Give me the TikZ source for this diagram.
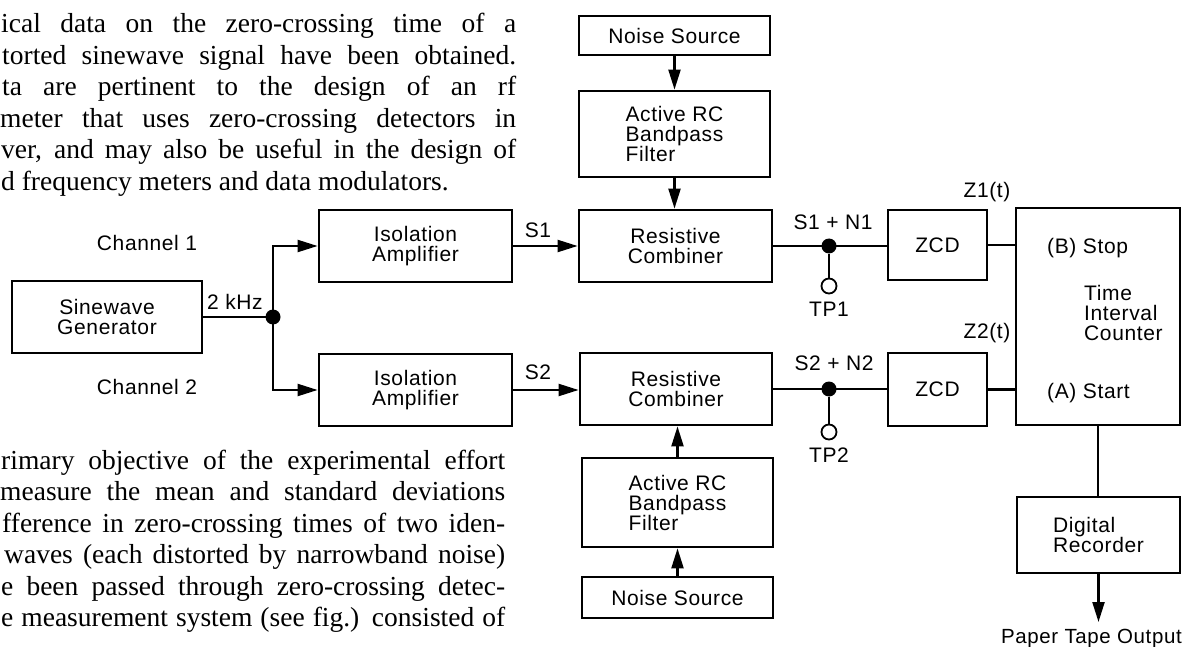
\documentclass[tikz,border=0pt]{standalone}
\usepackage{fontspec}
\setmainfont{Liberation Sans}[LetterSpace=3]
\newfontfamily\bodyfont{Liberation Serif}
\usetikzlibrary{arrows.meta,calc}
\begin{document}
\begin{tikzpicture}[x=1pt,y=-1pt,
  font=\fontsize{21}{20}\selectfont,
  blk/.style={draw,line width=2.8pt,inner sep=0pt,align=center},
  conn/.style={line width=2.2pt},
  thinconn/.style={line width=1.5pt},
  thickconn/.style={line width=2.8pt},
  arr/.style={conn,-{Triangle[length=20pt,width=12pt]}},
  dot/.style={circle,fill,inner sep=0pt,minimum size=15pt},
  tp/.style={circle,draw,line width=1.8pt,inner sep=0pt,minimum size=15pt},
  lbl/.style={inner sep=0pt},
  body/.style={inner sep=0pt,anchor=base west,font=\bodyfont\fontsize{27.5}{31}\selectfont}]
\useasboundingbox[fill=white] (0,0) rectangle (1184,647);

% body text, first paragraph
\node[body] (pa1) at (1,33)    {\makebox[515pt][s]{ical data on the zero-crossing time of a}};
\node[body] (pa2) at (2,64.5)  {\makebox[514pt][s]{torted sinewave signal have been obtained.}};
\node[body] (pa3) at (2,96)    {\makebox[514pt][s]{ta are pertinent to the design of an rf}};
\node[body] (pa4) at (0,127.5) {\makebox[516pt][s]{meter that uses zero-crossing detectors in}};
\node[body] (pa5) at (1,159)   {\makebox[515pt][s]{ver, and may also be useful in the design of}};
\node[body] (pa6) at (1,190.5) {d frequency meters and data modulators.};

% body text, second paragraph
\node[body] (pb1) at (1,469)   {\makebox[504pt][s]{rimary objective of the experimental effort}};
\node[body] (pb2) at (0,500.5) {\makebox[505pt][s]{measure the mean and standard deviations}};
\node[body] (pb3) at (2,532)   {\makebox[503pt][s]{fference in zero-crossing times of two iden-}};
\node[body] (pb4) at (4,563.5) {\makebox[501pt][s]{waves (each distorted by narrowband noise)}};
\node[body] (pb5) at (1,595)   {\makebox[504pt][s]{e been passed through zero-crossing detec-}};
\node[body] (pb6) at (1,626.5) {\makebox[504pt][s]{e measurement system (see fig.) consisted of}};

% blocks
\node[blk,minimum width=190pt,minimum height=72pt] (SG) at (107,317) {Sinewave\\Generator};
\node[blk,minimum width=193pt,minimum height=72pt] (IA1) at (415.5,246) {Isolation\\Amplifier};
\node[blk,minimum width=193pt,minimum height=72pt] (IA2) at (415.5,390) {Isolation\\Amplifier};
\node[blk,minimum width=191pt,minimum height=39pt] (NS1) at (674.5,35.5) {Noise Source};
\node[blk,minimum width=191pt,minimum height=86pt,align=left] (F1) at (674.5,134) {Active RC\\Bandpass\\Filter};
\node[blk,minimum width=193pt,minimum height=72pt] (RC1) at (675.5,246) {Resistive\\Combiner};
\node[blk,minimum width=192pt,minimum height=72pt] (RC2) at (676,389) {Resistive\\Combiner};
\node[blk,minimum width=191pt,minimum height=89pt,align=left] (F2) at (677.5,502.5) {Active RC\\Bandpass\\Filter};
\node[blk,minimum width=191pt,minimum height=41pt] (NS2) at (677.5,597.5) {Noise Source};
\node[blk,minimum width=99pt,minimum height=70pt] (ZCD1) at (937.5,245) {ZCD};
\node[blk,minimum width=99pt,minimum height=73pt] (ZCD2) at (937.5,389.5) {ZCD};
\node[blk,minimum width=164pt,minimum height=217pt] (TIC) at (1098,316.5) {};
\node[blk,minimum width=163pt,minimum height=76pt,align=left] (DR) at (1098.5,535) {Digital\\Recorder};

% text inside the counter
\node[lbl,anchor=west] (stop) at (1047,248) {(B) Stop};
\node[lbl,anchor=west,align=left] (ticl) at (1084,313) {Time\\Interval\\Counter};
\node[lbl,anchor=west] (start) at (1047,393) {(A) Start};

% labels
\node[lbl] (ch1) at (147,243) {Channel 1};
\node[lbl] (ch2) at (147,387) {Channel 2};
\node[lbl,anchor=west] (khz) at (207,302) {2 kHz};
\node[lbl] (s1) at (538,230) {S1};
\node[lbl] (s2) at (538,372) {S2};
\node[lbl] (sn1) at (833,222) {S1 + N1};
\node[lbl] (sn2) at (834,363) {S2 + N2};
\node[lbl] (tp1l) at (829,309) {TP1};
\node[lbl] (tp2l) at (829,455) {TP2};
\node[lbl] (z1) at (987,192) {Z1(t)};
\node[lbl] (z2) at (987,333) {Z2(t)};

% junctions and test points
\node[dot] (J0) at (273,317) {};
\node[dot] (J1) at (829,246) {};
\node[dot] (J2) at (829,389) {};
\node[tp] (TP1) at (829,286) {};
\node[tp] (TP2) at (829,432) {};
\coordinate (pout) at (1098.5,622);
\node[lbl,anchor=north east,font=\fontsize{20.5}{20}\selectfont] (ptape) at (1182,629) {Paper Tape Output};

% connectors
\draw[conn] (SG.east) -- (J0.center);
\draw[arr] (J0.center) |- (IA1.west);
\draw[arr] (J0.center) |- (IA2.west);
\draw[arr] (IA1.east) -- (IA1.east -| RC1.west);
\draw[arr] (IA2.east) -- (IA2.east -| RC2.west);
\draw[arr] (NS1.south) -- (NS1.south |- F1.north);
\draw[arr] (F1.south) -- (F1.south |- RC1.north);
\draw[arr] (NS2.north) -- (NS2.north |- F2.south);
\draw[arr] (F2.north) -- (F2.north |- RC2.south);
\draw[thinconn] (RC1.east) -- (J1.center) -- (J1.center -| ZCD1.west);
\draw[thinconn] (RC2.east) -- (J2.center) -- (J2.center -| ZCD2.west);
\draw[thinconn] (J1) -- (TP1);
\draw[thinconn] (J2) -- (TP2);
\draw[thickconn] (ZCD1.east) -- (ZCD1.east -| TIC.west);
\draw[thickconn] (ZCD2.east) -- (ZCD2.east -| TIC.west);
\draw[conn] (TIC.south) -- (TIC.south |- DR.north);
\draw[arr] (DR.south) -- (pout);
\end{tikzpicture}
\end{document}
